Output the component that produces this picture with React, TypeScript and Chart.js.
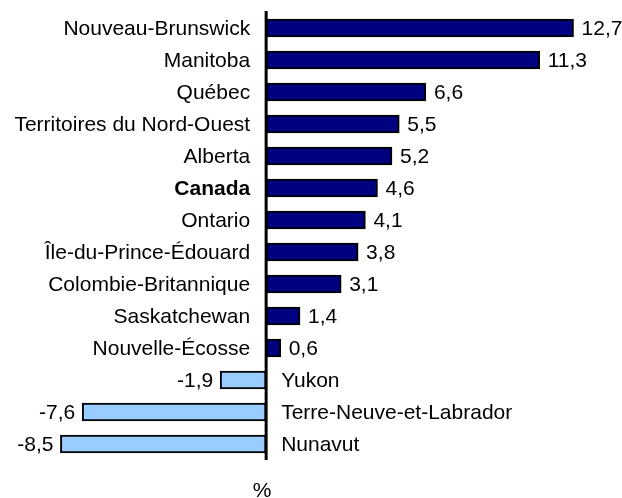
import React, { useEffect, useRef } from "react";
import { Chart, registerables } from "chart.js";

Chart.register(...registerables);

const categories = [
  "Nouveau-Brunswick",
  "Manitoba",
  "Québec",
  "Territoires du Nord-Ouest",
  "Alberta",
  "Canada",
  "Ontario",
  "Île-du-Prince-Édouard",
  "Colombie-Britannique",
  "Saskatchewan",
  "Nouvelle-Écosse",
  "Yukon",
  "Terre-Neuve-et-Labrador",
  "Nunavut",
];

const values = [12.7, 11.3, 6.6, 5.5, 5.2, 4.6, 4.1, 3.8, 3.1, 1.4, 0.6, -1.9, -7.6, -8.5];

const boldCategories = ["Canada"];
const axisTitle = "%";

const POS_COLOR = "#000080";
const NEG_COLOR = "#99CCFF";
const FONT = "Liberation Sans, Arial, sans-serif";
const FONT_SIZE = 21;

const fmt = (v: number) => v.toFixed(1).replace(".", ",");

const labelPlugin = {
  id: "customLabels",
  afterDatasetsDraw(chart: any) {
    const { ctx, chartArea, scales } = chart;
    const xs = scales.x;
    const ys = scales.y;
    const x0 = xs.getPixelForValue(0);
    ctx.save();
    // zero axis
    ctx.strokeStyle = "#000";
    ctx.lineWidth = 3;
    ctx.beginPath();
    ctx.moveTo(x0, chartArea.top - 1);
    ctx.lineTo(x0, chartArea.bottom);
    ctx.stroke();

    ctx.fillStyle = "#000";
    ctx.textBaseline = "middle";
    categories.forEach((cat, i) => {
      const v = values[i];
      const y = ys.getPixelForValue(i) + 1;
      const xv = xs.getPixelForValue(v);
      const bold = boldCategories.includes(cat);
      ctx.font = `${bold ? "bold " : ""}${FONT_SIZE}px ${FONT}`;
      if (v >= 0) {
        ctx.textAlign = "right";
        ctx.fillText(cat, x0 - 16, y);
      } else {
        ctx.textAlign = "left";
        ctx.fillText(cat, x0 + 15, y);
      }
      ctx.font = `${FONT_SIZE}px ${FONT}`;
      if (v >= 0) {
        ctx.textAlign = "left";
        ctx.fillText(fmt(v), xv + 8, y);
      } else {
        ctx.textAlign = "right";
        ctx.fillText(fmt(v), xv - 7, y);
      }
    });

    ctx.font = `${FONT_SIZE}px ${FONT}`;
    ctx.textAlign = "center";
    ctx.fillText(axisTitle, x0 - 4, 491);
    ctx.restore();
  },
};

export default function App() {
  const ref = useRef<HTMLCanvasElement | null>(null);
  useEffect(() => {
    if (!ref.current) return;
    const chart = new Chart(ref.current, {
      type: "bar",
      data: {
        labels: categories,
        datasets: [
          {
            data: values,
            backgroundColor: values.map((v) => (v >= 0 ? POS_COLOR : NEG_COLOR)),
            borderColor: "#000",
            borderWidth: 2,
            borderSkipped: false,
            barThickness: 18,
          },
        ],
      },
      options: {
        indexAxis: "y",
        animation: false,
        responsive: false,
        maintainAspectRatio: false,
        layout: { padding: { left: 12, right: 17, top: 12, bottom: 38 } },
        plugins: {
          legend: { display: false },
          tooltip: { enabled: false },
          title: { display: false },
        },
        scales: {
          x: { type: "linear", min: -10.5, max: 14, display: false },
          y: { type: "category", display: false, offset: true },
        },
      },
      plugins: [labelPlugin],
    });
    return () => chart.destroy();
  }, []);
  return (
    <div style={{ position: "fixed", left: 0, top: 0, width: 622, height: 498, background: "#fff" }}>
      <canvas ref={ref} width={622} height={498} style={{ display: "block" }} />
    </div>
  );
}
